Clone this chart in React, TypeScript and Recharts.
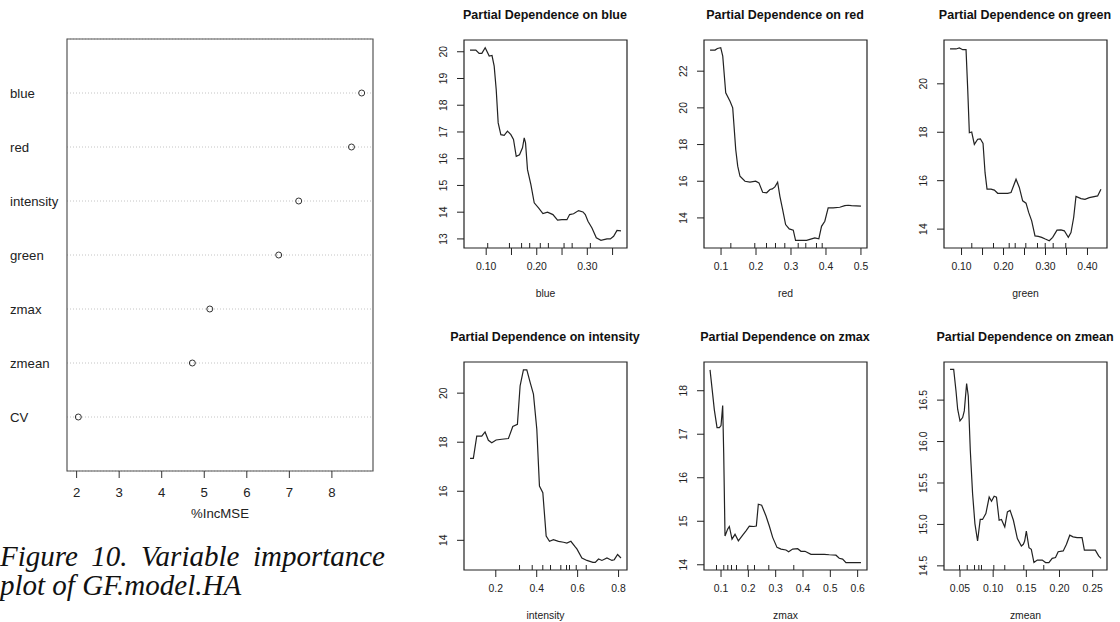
import {
  ComposedChart,
  ScatterChart,
  Line,
  Scatter,
  XAxis,
  YAxis,
  CartesianGrid,
  ReferenceArea,
  Label,
} from "recharts";

const SANS = '"Liberation Sans", Arial, Helvetica, sans-serif';
const SERIF = '"Liberation Serif", "Times New Roman", serif';
const INK = "#222";

// variable importance (dot chart on the left)
const importanceVars = ["blue", "red", "intensity", "green", "zmax", "zmean", "CV"];
const importanceValues = [8.7, 8.46, 7.22, 6.75, 5.13, 4.72, 2.04];
const importanceXTicks = [2, 3, 4, 5, 6, 7, 8];
const importanceRows = [1, 2, 3, 4, 5, 6, 7];

// partial dependence curves
const blueX = [0.068, 0.0795, 0.086, 0.0914, 0.098, 0.106, 0.1115, 0.1158, 0.1198, 0.1237, 0.129, 0.1356, 0.1421, 0.1488, 0.154, 0.1594, 0.1659, 0.1718, 0.1752, 0.1778, 0.1817, 0.1884, 0.195, 0.2035, 0.2122, 0.2213, 0.232, 0.2411, 0.2498, 0.2597, 0.265, 0.2728, 0.2827, 0.2914, 0.296, 0.3013, 0.3092, 0.3178, 0.327, 0.3389, 0.3455, 0.352, 0.3587, 0.3666];
const blueY = [20.06, 20.06, 19.94, 19.94, 20.15, 19.84, 19.86, 19.46, 18.59, 17.34, 16.9, 16.87, 17.03, 16.9, 16.72, 16.09, 16.15, 16.41, 16.78, 16.59, 15.59, 15.03, 14.35, 14.16, 13.95, 14.0, 13.91, 13.7, 13.72, 13.72, 13.91, 13.94, 14.06, 14.01, 13.91, 13.66, 13.41, 13.04, 12.95, 13.0, 13.0, 13.1, 13.32, 13.3];
const blueRug = [0.103, 0.146, 0.17, 0.186, 0.207, 0.223, 0.254, 0.27, 0.306];

const redX = [0.0686, 0.0829, 0.0896, 0.0991, 0.1049, 0.1134, 0.1257, 0.1334, 0.142, 0.1477, 0.1542, 0.1685, 0.1827, 0.199, 0.2084, 0.219, 0.2304, 0.2398, 0.2466, 0.254, 0.2618, 0.2683, 0.276, 0.2846, 0.295, 0.3065, 0.3131, 0.3254, 0.3445, 0.3588, 0.3682, 0.3796, 0.3873, 0.3967, 0.4063, 0.4206, 0.4395, 0.4538, 0.4634, 0.4729, 0.5];
const redY = [23.15, 23.15, 23.24, 23.28, 22.82, 20.82, 20.36, 20.0, 17.73, 16.82, 16.27, 16.0, 15.95, 16.0, 15.91, 15.4, 15.37, 15.55, 15.58, 15.69, 15.95, 15.18, 14.46, 13.64, 13.4, 13.33, 12.78, 12.78, 12.78, 12.86, 12.91, 12.86, 13.54, 13.82, 14.55, 14.55, 14.58, 14.67, 14.69, 14.67, 14.64];
const redRug = [0.128, 0.1965, 0.23, 0.2557, 0.2823, 0.3206, 0.3423, 0.3729, 0.3892];

const greenX = [0.0726, 0.0869, 0.0948, 0.1028, 0.1107, 0.1147, 0.1186, 0.1242, 0.1305, 0.1385, 0.1448, 0.1512, 0.156, 0.1607, 0.1702, 0.1781, 0.1861, 0.198, 0.2099, 0.2179, 0.2298, 0.2376, 0.2456, 0.2536, 0.2599, 0.2671, 0.275, 0.2829, 0.2909, 0.2995, 0.309, 0.3171, 0.3274, 0.3369, 0.3448, 0.3543, 0.3607, 0.3671, 0.3726, 0.3845, 0.394, 0.4043, 0.4242, 0.4321];
const greenY = [21.44, 21.44, 21.48, 21.41, 21.41, 19.77, 17.98, 18.01, 17.5, 17.71, 17.73, 17.54, 16.33, 15.65, 15.65, 15.61, 15.48, 15.48, 15.48, 15.51, 16.06, 15.72, 15.17, 15.07, 14.69, 14.34, 13.72, 13.7, 13.66, 13.59, 13.52, 13.66, 13.96, 13.97, 13.93, 13.66, 13.86, 14.48, 15.35, 15.26, 15.23, 15.3, 15.37, 15.65];
const greenRug = [0.1244, 0.1761, 0.2135, 0.2278, 0.2531, 0.2809, 0.2993, 0.3183, 0.3483];

const intensityX = [0.0742, 0.0904, 0.107, 0.1315, 0.1476, 0.1638, 0.1804, 0.2015, 0.2292, 0.2617, 0.2831, 0.3057, 0.3189, 0.3351, 0.3516, 0.3679, 0.384, 0.4005, 0.4134, 0.4299, 0.4462, 0.4624, 0.4819, 0.5064, 0.5309, 0.5474, 0.5669, 0.5882, 0.5963, 0.6208, 0.6453, 0.6746, 0.686, 0.7022, 0.7187, 0.7432, 0.7676, 0.779, 0.7952, 0.8117];
const intensityY = [17.34, 17.34, 18.25, 18.25, 18.42, 18.08, 17.98, 18.09, 18.12, 18.15, 18.64, 18.73, 20.3, 20.95, 20.95, 20.44, 19.96, 18.53, 16.21, 15.94, 14.17, 13.96, 14.03, 13.96, 13.92, 13.89, 13.96, 13.73, 13.65, 13.28, 13.18, 13.1, 13.1, 13.24, 13.18, 13.28, 13.18, 13.21, 13.42, 13.28];
const intensityRug = [0.316, 0.378, 0.4298, 0.4675, 0.5178, 0.5457, 0.5603, 0.5931, 0.642];

const zmaxX = [0.0598, 0.0696, 0.0755, 0.0854, 0.0938, 0.1, 0.1061, 0.1098, 0.1146, 0.1244, 0.1304, 0.1402, 0.1512, 0.1634, 0.1793, 0.1914, 0.2036, 0.2195, 0.2292, 0.2365, 0.2487, 0.2646, 0.2767, 0.289, 0.3048, 0.3195, 0.3377, 0.3475, 0.3621, 0.3804, 0.3926, 0.4072, 0.4292, 0.4536, 0.4779, 0.4961, 0.5206, 0.5327, 0.545, 0.5572, 0.5755, 0.6121];
const zmaxY = [18.48, 17.91, 17.56, 17.15, 17.15, 17.2, 17.66, 16.57, 14.66, 14.82, 14.88, 14.59, 14.7, 14.55, 14.68, 14.78, 14.89, 14.88, 14.89, 15.39, 15.37, 15.12, 14.89, 14.63, 14.4, 14.36, 14.34, 14.3, 14.36, 14.37, 14.31, 14.31, 14.24, 14.24, 14.24, 14.23, 14.22, 14.15, 14.13, 14.05, 14.05, 14.05];
const zmaxRug = [0.0834, 0.1101, 0.1248, 0.1383, 0.1566, 0.198, 0.2225, 0.2748, 0.3663];

const zmeanX = [0.035, 0.0405, 0.044, 0.0465, 0.05, 0.054, 0.0565, 0.06, 0.0625, 0.0655, 0.069, 0.0725, 0.0765, 0.0805, 0.084, 0.089, 0.094, 0.0975, 0.1015, 0.105, 0.109, 0.1125, 0.1175, 0.1215, 0.1255, 0.1305, 0.1365, 0.1425, 0.1455, 0.1475, 0.15, 0.154, 0.1575, 0.1615, 0.1665, 0.174, 0.179, 0.184, 0.189, 0.194, 0.198, 0.2056, 0.2105, 0.2155, 0.2205, 0.2265, 0.234, 0.2375, 0.249, 0.254, 0.259, 0.2625];
const zmeanY = [16.87, 16.87, 16.61, 16.39, 16.25, 16.29, 16.37, 16.7, 16.55, 15.9, 15.37, 15.01, 14.8, 15.06, 15.06, 15.13, 15.33, 15.28, 15.34, 15.33, 15.05, 15.06, 14.97, 15.15, 15.17, 15.05, 14.83, 14.74, 14.76, 14.8, 14.92, 14.72, 14.7, 14.54, 14.57, 14.57, 14.54, 14.54, 14.59, 14.6, 14.67, 14.68, 14.76, 14.87, 14.85, 14.84, 14.84, 14.69, 14.69, 14.69, 14.62, 14.59];
const zmeanRug = [0.0493, 0.0609, 0.0719, 0.0784, 0.0824, 0.101, 0.1175, 0.1462, 0.1763];

// axis ticks and labels
const blueXTicks = [0.1, 0.15, 0.2, 0.25, 0.3, 0.35];
const blueXLabels = ["0.10", "", "0.20", "", "0.30", ""];
const blueYTicks = [13, 14, 15, 16, 17, 18, 19, 20];

const redXTicks = [0.1, 0.2, 0.3, 0.4, 0.5];
const redXLabels = ["0.1", "0.2", "0.3", "0.4", "0.5"];
const redYTicks = [14, 16, 18, 20, 22];

const greenXTicks = [0.1, 0.15, 0.2, 0.25, 0.3, 0.35, 0.4];
const greenXLabels = ["0.10", "", "0.20", "", "0.30", "", "0.40"];
const greenYTicks = [14, 16, 18, 20];

const intensityXTicks = [0.2, 0.4, 0.6, 0.8];
const intensityXLabels = ["0.2", "0.4", "0.6", "0.8"];
const intensityYTicks = [14, 16, 18, 20];

const zmaxXTicks = [0.1, 0.2, 0.3, 0.4, 0.5, 0.6];
const zmaxXLabels = ["0.1", "0.2", "0.3", "0.4", "0.5", "0.6"];
const zmaxYTicks = [14, 15, 16, 17, 18];

const zmeanXTicks = [0.05, 0.1, 0.15, 0.2, 0.25];
const zmeanXLabels = ["0.05", "0.10", "0.15", "0.20", "0.25"];
const zmeanYTicks = [14.5, 15, 15.5, 16, 16.5];

const BOX_W = 163;
const BOX_H = 208;
const COLS = [463.5, 703.5, 943.5];
const ROWS = [40, 362];

const panels = [
  { name: "blue", xs: blueX, ys: blueY, rug: blueRug, xDomain: [0.0561, 0.3785], yDomain: [12.66, 20.44], xTicks: blueXTicks, xLabels: blueXLabels, yTicks: blueYTicks, yDigits: 0, col: 0, row: 0 },
  { name: "red", xs: redX, ys: redY, rug: redRug, xDomain: [0.0513, 0.5173], yDomain: [12.36, 23.7], xTicks: redXTicks, xLabels: redXLabels, yTicks: redYTicks, yDigits: 0, col: 1, row: 0 },
  { name: "green", xs: greenX, ys: greenY, rug: greenRug, xDomain: [0.0582, 0.4465], yDomain: [13.22, 21.81], xTicks: greenXTicks, xLabels: greenXLabels, yTicks: greenYTicks, yDigits: 0, col: 2, row: 0 },
  { name: "intensity", xs: intensityX, ys: intensityY, rug: intensityRug, xDomain: [0.0447, 0.8412], yDomain: [12.79, 21.27], xTicks: intensityXTicks, xLabels: intensityXLabels, yTicks: intensityYTicks, yDigits: 0, col: 0, row: 1 },
  { name: "zmax", xs: zmaxX, ys: zmaxY, rug: zmaxRug, xDomain: [0.0377, 0.6342], yDomain: [13.88, 18.66], xTicks: zmaxXTicks, xLabels: zmaxXLabels, yTicks: zmaxYTicks, yDigits: 0, col: 1, row: 1 },
  { name: "zmean", xs: zmeanX, ys: zmeanY, rug: zmeanRug, xDomain: [0.0259, 0.2716], yDomain: [14.45, 16.96], xTicks: zmeanXTicks, xLabels: zmeanXLabels, yTicks: zmeanYTicks, yDigits: 1, col: 2, row: 1 },
];

function RugTick(props: any) {
  const { cx, cy } = props;
  return <line x1={cx} y1={cy} x2={cx} y2={cy - 5} stroke={INK} strokeWidth={1} />;
}

function OpenDot(props: any) {
  const { cx, cy } = props;
  return <circle cx={cx} cy={cy} r={3} fill="none" stroke="#333" strokeWidth={1} />;
}

function PDPanel({ p }: { p: any }) {
  const left = COLS[p.col];
  const top = ROWS[p.row];
  const data = p.xs.map((x: number, i: number) => ({ x, y: p.ys[i] }));
  const rug = p.rug.map((x: number) => ({ x, y: p.yDomain[0] }));

  return (
    <>
      <div
        style={{
          position: "absolute",
          left: left + BOX_W / 2 - 120,
          top: top - 33,
          width: 240,
          textAlign: "center",
          fontFamily: SANS,
          fontWeight: "bold",
          fontSize: 12.5,
          lineHeight: "16px",
          color: "#111",
          whiteSpace: "nowrap",
        }}
      >
        {`Partial Dependence on ${p.name}`}
      </div>
      <div style={{ position: "absolute", left: left - 50, top: top - 10 }}>
        <ComposedChart
          width={BOX_W + 55}
          height={BOX_H + 70}
          data={data}
          margin={{ top: 10, right: 5, bottom: 0, left: 0 }}
        >
          <XAxis
            type="number"
            dataKey="x"
            domain={p.xDomain}
            allowDataOverflow
            ticks={p.xTicks}
            interval={0}
            height={60}
            axisLine={false}
            tickSize={7}
            tickMargin={8}
            tickLine={{ stroke: INK }}
            tick={(t: any) => (
              <text x={t.x} y={t.y} dy="0.71em" textAnchor="middle" fontSize={10.4} fontFamily={SANS} fill={INK}>
                {p.xLabels[t.index]}
              </text>
            )}
          >
            <Label
              value={p.name}
              position="insideBottom"
              offset={11}
              style={{ fontSize: 10.4, fontFamily: SANS, fill: INK }}
            />
          </XAxis>
          <YAxis
            type="number"
            dataKey="y"
            domain={p.yDomain}
            allowDataOverflow
            ticks={p.yTicks}
            interval={0}
            width={50}
            axisLine={false}
            tickSize={7}
            tickMargin={10}
            tickLine={{ stroke: INK }}
            tick={(t: any) => (
              <text
                x={t.x}
                y={t.y}
                transform={`rotate(-90, ${t.x}, ${t.y})`}
                textAnchor="middle"
                fontSize={10.4}
                fontFamily={SANS}
                fill={INK}
              >
                {Number(t.payload.value).toFixed(p.yDigits)}
              </text>
            )}
          />
          <ReferenceArea
            x1={p.xDomain[0]}
            x2={p.xDomain[1]}
            y1={p.yDomain[0]}
            y2={p.yDomain[1]}
            fill="none"
            fillOpacity={0}
            stroke={INK}
            strokeWidth={1.2}
            ifOverflow="visible"
          />
          <Line
            type="linear"
            dataKey="y"
            stroke={INK}
            strokeWidth={1.2}
            dot={false}
            activeDot={false}
            isAnimationActive={false}
          />
          <Scatter data={rug} dataKey="y" shape={RugTick} isAnimationActive={false} />
        </ComposedChart>
      </div>
    </>
  );
}

export default function App() {
  const importanceData = importanceValues.map((v, i) => ({
    value: v,
    pos: importanceVars.length - i,
  }));

  return (
    <div
      style={{
        position: "absolute",
        left: 0,
        top: 0,
        width: 1120,
        height: 622,
        overflow: "hidden",
        background: "#fff",
      }}
    >
      <div style={{ position: "absolute", left: 0, top: 0 }}>
        <ScatterChart
          width={380}
          height={540}
          margin={{ top: 39, right: 7, bottom: 0, left: 0 }}
        >
          <CartesianGrid horizontal vertical={false} stroke="#c4c4c4" strokeDasharray="1 2" />
          <XAxis
            type="number"
            dataKey="value"
            domain={[1.774, 8.966]}
            allowDataOverflow
            ticks={importanceXTicks}
            interval={0}
            height={69}
            axisLine={false}
            tickSize={7}
            tickMargin={10}
            tickLine={{ stroke: "#333" }}
            tick={(t: any) => (
              <text x={t.x} y={t.y} dy="0.71em" textAnchor="middle" fontSize={13.2} fontFamily={SANS} fill={INK}>
                {t.payload.value}
              </text>
            )}
          >
            <Label
              value="%IncMSE"
              position="insideBottom"
              offset={22}
              style={{ fontSize: 13.2, fontFamily: SANS, fill: INK }}
            />
          </XAxis>
          <YAxis
            type="number"
            dataKey="pos"
            domain={[0, 8]}
            allowDataOverflow
            ticks={importanceRows}
            interval={0}
            width={67}
            axisLine={false}
            tickLine={false}
            tick={(t: any) => (
              <text x={10} y={t.y} dy="0.35em" textAnchor="start" fontSize={13.2} fontFamily={SANS} fill={INK}>
                {importanceVars[importanceVars.length - t.payload.value]}
              </text>
            )}
          />
          <ReferenceArea
            x1={1.774}
            x2={8.966}
            y1={0}
            y2={8}
            fill="none"
            fillOpacity={0}
            stroke="#555"
            strokeWidth={1.2}
            ifOverflow="visible"
          />
          <Scatter data={importanceData} shape={OpenDot} isAnimationActive={false} />
        </ScatterChart>
      </div>

      <div
        style={{
          position: "absolute",
          left: 0,
          top: 542,
          width: 385,
          fontFamily: SERIF,
          fontStyle: "italic",
          fontSize: 29,
          lineHeight: "29px",
          color: "#111",
        }}
      >
        <div style={{ textAlign: "justify", textAlignLast: "justify" }}>
          Figure 10. Variable importance
        </div>
        <div>plot of GF.model.HA</div>
      </div>

      {panels.map((p) => (
        <PDPanel key={p.name} p={p} />
      ))}
    </div>
  );
}
